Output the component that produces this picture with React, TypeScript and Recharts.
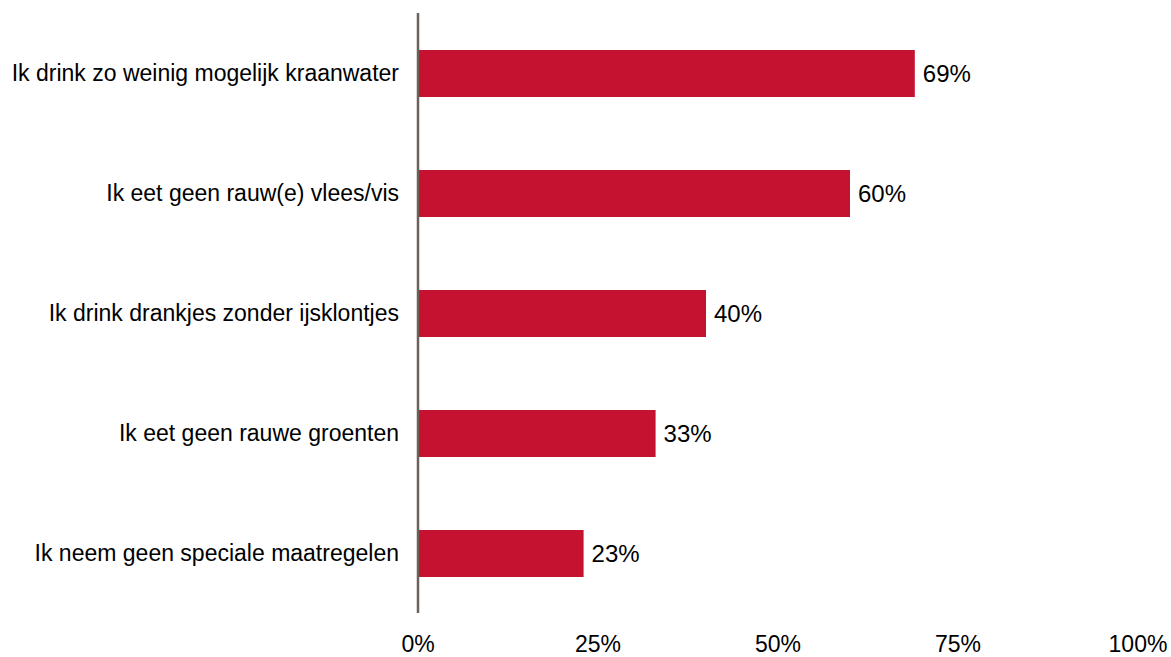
import { Bar, BarChart, LabelList, XAxis, YAxis } from "recharts";

const categories = [
  "Ik drink zo weinig mogelijk kraanwater",
  "Ik eet geen rauw(e) vlees/vis",
  "Ik drink drankjes zonder ijsklontjes",
  "Ik eet geen rauwe groenten",
  "Ik neem geen speciale maatregelen",
];
const shares = [69, 60, 40, 33, 23];
const xTicks = [0, 25, 50, 75, 100];

const data = categories.map((name, i) => ({ name, value: shares[i] }));

const font = "'Liberation Sans', Arial, sans-serif";

export default function App() {
  return (
    <div style={{ position: "absolute", left: 0, top: 0, fontFamily: font }}>
      <BarChart
        width={1171}
        height={657}
        data={data}
        layout="vertical"
        margin={{ top: 13, right: 33, left: 0, bottom: 0 }}
      >
        <XAxis
          type="number"
          domain={[0, 100]}
          ticks={xTicks}
          tickFormatter={(v: number) => `${v}%`}
          axisLine={false}
          tickLine={false}
          height={44}
          tickMargin={17}
          tick={{ fontSize: 23, fill: "#000", fontFamily: font }}
        />
        <YAxis
          type="category"
          dataKey="name"
          width={418}
          axisLine={{ stroke: "#6b625c", strokeWidth: 2.5 }}
          tickLine={false}
          tickMargin={13}
          tick={{ fontSize: 23, fill: "#000", fontFamily: font }}
        />
        <Bar dataKey="value" fill="#c41230" barSize={47} isAnimationActive={false}>
          <LabelList
            dataKey="value"
            position="right"
            offset={8}
            formatter={(v: number) => `${v}%`}
            style={{ fontSize: 24, fill: "#000", fontFamily: font }}
          />
        </Bar>
      </BarChart>
    </div>
  );
}
